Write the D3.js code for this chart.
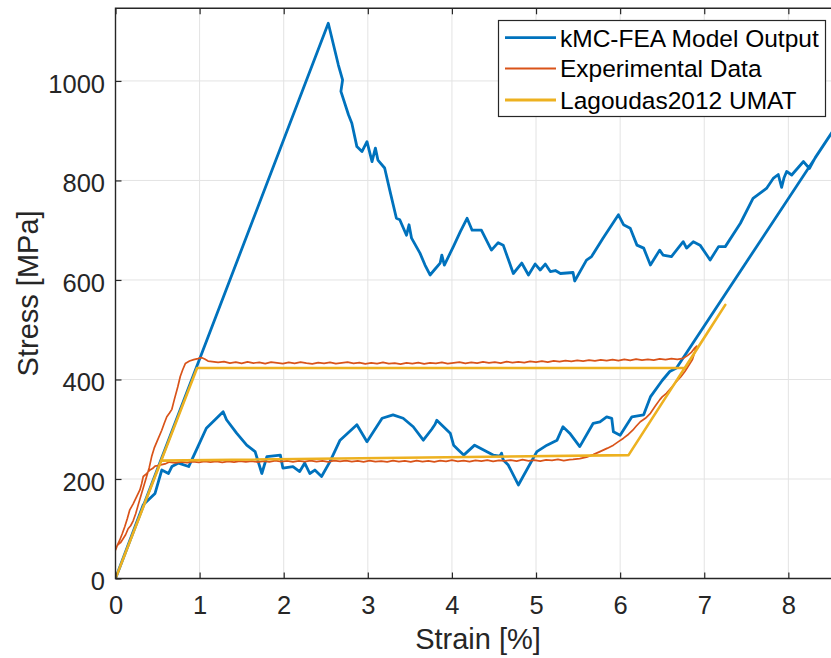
<!DOCTYPE html>
<html>
<head>
<meta charset="utf-8">
<script src="https://cdn.jsdelivr.net/npm/d3@7"></script>
<style>
  html, body { margin: 0; padding: 0; background: #fff; }
  svg { display: block; font-family: "Liberation Sans", Arial, Helvetica, sans-serif; }
</style>
</head>
<body>
<svg id="chart" width="831" height="658"></svg>
<script>
// Stress–strain response: kMC-FEA model, experiment and Lagoudas2012 UMAT

const seriesNames = ["kMC-FEA Model Output", "Experimental Data", "Lagoudas2012 UMAT"];
const seriesColors = ["#0072BD", "#D95319", "#EDB120"];

const xTicks = [0, 1, 2, 3, 4, 5, 6, 7, 8];
const yTicks = [0, 200, 400, 600, 800, 1000];

// kMC-FEA model: [strain %, stress MPa], loading then unloading
const kmcFea = [
  [0, 0], [2.53, 1116], [2.65, 1032], [2.70, 1002], [2.68, 979], [2.77, 932],
  [2.81, 915], [2.87, 868], [2.93, 858], [2.99, 878], [3.05, 838], [3.09, 865],
  [3.12, 841], [3.20, 825], [3.26, 781], [3.34, 724], [3.38, 721], [3.46, 690],
  [3.49, 711], [3.52, 684], [3.62, 654], [3.68, 630], [3.74, 610], [3.80, 622],
  [3.86, 634], [3.88, 650], [3.91, 630], [4.02, 668], [4.10, 697], [4.18, 724],
  [4.24, 700], [4.35, 700], [4.47, 660], [4.55, 675], [4.61, 670], [4.73, 613],
  [4.83, 634], [4.91, 610], [4.99, 632], [5.05, 620], [5.11, 632], [5.17, 617],
  [5.23, 619], [5.29, 613], [5.44, 615], [5.46, 598], [5.60, 640], [5.66, 647],
  [5.80, 685], [5.98, 731], [6.04, 711], [6.12, 704], [6.20, 670], [6.28, 664],
  [6.36, 630], [6.47, 660], [6.51, 650], [6.61, 647], [6.75, 677], [6.79, 664],
  [6.87, 677], [6.95, 670], [7.03, 650], [7.07, 640], [7.17, 667], [7.25, 667],
  [7.43, 714], [7.58, 764], [7.74, 784], [7.82, 804], [7.88, 812], [7.92, 786],
  [7.95, 806], [7.98, 818], [8.04, 811], [8.18, 838], [8.25, 824], [8.32, 846],
  [8.56, 907],
  [6.67, 423], [6.59, 416], [6.50, 398], [6.36, 365], [6.30, 338], [6.28, 329],
  [6.14, 325], [6.00, 288], [5.92, 295], [5.90, 322], [5.84, 325], [5.76, 315],
  [5.68, 312], [5.52, 265], [5.40, 292], [5.32, 305], [5.25, 278], [5.13, 268],
  [5.01, 255], [4.79, 188], [4.67, 228], [4.61, 238], [4.59, 252], [4.57, 246],
  [4.49, 248], [4.27, 268], [4.14, 248], [4.08, 258], [4.02, 268], [3.98, 292],
  [3.90, 305], [3.82, 318], [3.80, 310], [3.76, 300], [3.66, 278], [3.54, 305],
  [3.42, 322], [3.30, 329], [3.17, 322], [2.99, 275], [2.87, 309], [2.67, 278],
  [2.55, 235], [2.45, 205], [2.37, 218], [2.31, 211], [2.25, 232], [2.19, 215],
  [2.11, 225], [1.99, 222], [1.96, 248], [1.80, 245], [1.74, 211], [1.66, 255],
  [1.56, 268], [1.44, 292], [1.32, 319], [1.28, 335], [1.08, 302], [0.98, 265],
  [0.87, 225], [0.75, 232], [0.67, 225], [0.63, 211], [0.55, 218], [0.47, 171],
  [0.33, 148], [0, 0]
];

// Experimental data: loading branch
const expLoading = [
  [0, 60], [0.03, 68], [0.06, 72], [0.09, 80], [0.12, 88], [0.15, 100], [0.18, 106],
  [0.21, 116], [0.24, 130], [0.27, 148], [0.31, 171], [0.34, 188], [0.37, 205],
  [0.40, 222], [0.43, 245], [0.46, 262], [0.50, 278], [0.55, 298], [0.58, 312],
  [0.61, 325], [0.64, 332], [0.67, 340], [0.70, 360], [0.74, 385], [0.77, 406],
  [0.80, 420], [0.83, 432], [0.88, 437], [0.93, 440], [0.98, 442], [1.02, 444],
  [1.06, 441], [1.10, 437]
];

// Experimental data: upper (forward transformation) plateau
const expUpper = [
  [1.15, 436], [1.22, 434.5], [1.29, 436], [1.36, 433], [1.43, 435], [1.50, 432.5],
  [1.57, 435.5], [1.64, 433], [1.71, 434.5], [1.78, 432], [1.85, 435], [1.92, 433.5],
  [1.99, 432], [2.06, 434.5], [2.13, 432.5], [2.20, 435], [2.27, 433], [2.34, 431.5],
  [2.41, 434], [2.48, 432.5], [2.55, 434.5], [2.62, 432], [2.69, 433.5], [2.76, 435],
  [2.83, 432.5], [2.90, 434], [2.97, 431.5], [3.04, 433.5], [3.11, 432], [3.18, 434.5],
  [3.25, 432], [3.32, 433], [3.39, 431], [3.46, 433.5], [3.53, 432], [3.60, 434],
  [3.67, 431.5], [3.74, 433.5], [3.81, 432.5], [3.88, 434.5], [3.95, 432], [4.02, 433.5],
  [4.09, 435], [4.16, 432.5], [4.23, 434.5], [4.30, 433], [4.37, 435.5], [4.44, 433.5],
  [4.51, 435], [4.58, 433], [4.65, 436], [4.72, 434], [4.79, 435.5], [4.86, 434],
  [4.93, 436.5], [5.00, 435], [5.07, 437], [5.14, 435], [5.21, 437.5], [5.28, 436],
  [5.35, 438], [5.42, 436.5], [5.49, 438.5], [5.56, 437], [5.63, 439], [5.70, 437.5],
  [5.77, 439.5], [5.84, 438], [5.91, 440], [5.98, 438], [6.05, 440.5], [6.12, 438.5],
  [6.19, 441], [6.26, 439], [6.33, 440.5], [6.40, 439], [6.47, 441.5], [6.54, 440],
  [6.61, 442], [6.68, 440.5], [6.75, 442.5], [6.80, 448], [6.85, 455], [6.88, 462],
  [6.91, 467]
];

// Experimental data: unloading branch down to the lower plateau
const expUnloading = [
  [6.86, 440], [6.80, 424], [6.77, 416], [6.72, 405], [6.67, 396], [6.61, 384],
  [6.55, 372], [6.50, 365], [6.47, 359], [6.42, 347], [6.36, 332], [6.30, 322],
  [6.24, 315], [6.19, 306], [6.15, 298], [6.10, 290], [6.04, 282], [5.98, 275],
  [5.92, 268], [5.85, 262], [5.76, 255], [5.68, 249], [5.60, 244], [5.52, 241],
  [5.44, 239.5]
];

// Experimental data: lower (reverse transformation) plateau and return
const expLower = [
  [5.40, 239], [5.33, 237], [5.26, 239.5], [5.19, 237.5], [5.12, 238.5], [5.05, 236],
  [4.98, 238], [4.91, 236.5], [4.84, 239], [4.77, 236], [4.70, 238], [4.63, 236.5],
  [4.56, 237.5], [4.49, 235.5], [4.42, 238], [4.35, 236], [4.28, 237.5], [4.21, 235],
  [4.14, 237], [4.07, 235.5], [4.00, 238], [3.93, 235.5], [3.86, 237], [3.79, 234.5],
  [3.72, 236.5], [3.65, 235], [3.58, 237], [3.51, 234.5], [3.44, 236.5], [3.37, 235],
  [3.30, 237], [3.23, 234.5], [3.16, 236], [3.09, 235], [3.02, 237], [2.95, 234.5],
  [2.88, 236.5], [2.81, 235], [2.74, 237], [2.67, 235.5], [2.60, 237], [2.53, 234.5],
  [2.46, 236.5], [2.39, 235], [2.32, 237], [2.25, 235], [2.18, 236.5], [2.11, 234.5],
  [2.04, 236.5], [1.97, 235], [1.90, 237], [1.83, 234.5], [1.76, 236], [1.69, 234],
  [1.62, 236], [1.55, 234.5], [1.48, 236], [1.41, 234], [1.34, 235.5], [1.27, 233.5],
  [1.20, 235.5], [1.13, 234], [1.06, 235.5], [0.99, 233.5], [0.92, 235], [0.85, 233],
  [0.78, 234.5], [0.71, 232.5], [0.64, 234], [0.60, 231], [0.55, 229], [0.50, 227],
  [0.47, 226], [0.44, 221], [0.41, 218], [0.37, 211], [0.33, 205], [0.31, 190],
  [0.29, 178], [0.25, 164], [0.21, 150], [0.17, 138], [0.14, 120], [0.11, 104],
  [0.08, 90], [0.05, 77], [0.02, 66], [0, 57]
];

// Lagoudas2012 UMAT response
const lagoudasUmat = [
  [0, 0], [0.97, 423], [6.77, 423], [7.25, 550], [6.10, 248], [0.545, 237], [0, 0]
];

const svg = d3.select("#chart");
const mLeft = 115.5, mRight = 830.4, mTop = 8.3, mBottom = 578.5;

const x = d3.scaleLinear().domain([0, 8.5]).range([mLeft, mRight]);
const y = d3.scaleLinear().domain([0, 1146]).range([mBottom, mTop]);

const axisColor = "#262626";
const tickFont = 25.5;

// grid
const grid = svg.append("g");
grid.selectAll("line.gx").data(xTicks.filter(d => d > 0)).join("line")
  .attr("x1", d => x(d)).attr("x2", d => x(d))
  .attr("y1", mTop).attr("y2", mBottom)
  .attr("stroke", "#e3e3e3").attr("stroke-width", 1);
grid.selectAll("line.gy").data(yTicks.filter(d => d > 0)).join("line")
  .attr("x1", mLeft).attr("x2", 831)
  .attr("y1", d => y(d)).attr("y2", d => y(d))
  .attr("stroke", "#e3e3e3").attr("stroke-width", 1);

// data lines, clipped to the axes box
svg.append("clipPath").attr("id", "plotClip")
  .append("rect").attr("x", mLeft).attr("y", mTop)
  .attr("width", 831 - mLeft).attr("height", mBottom - mTop);

const line = d3.line().x(d => x(d[0])).y(d => y(d[1]));
const plot = svg.append("g").attr("clip-path", "url(#plotClip)");

plot.append("path").datum(kmcFea).attr("d", line)
  .attr("fill", "none").attr("stroke", seriesColors[0])
  .attr("stroke-width", 2.8).attr("stroke-linejoin", "round");

const expData = expLoading.concat(expUpper, expUnloading, expLower);
plot.append("path").datum(expData).attr("d", line)
  .attr("fill", "none").attr("stroke", seriesColors[1])
  .attr("stroke-width", 1.7).attr("stroke-linejoin", "round");

plot.append("path").datum(lagoudasUmat).attr("d", line)
  .attr("fill", "none").attr("stroke", seriesColors[2])
  .attr("stroke-width", 2.6).attr("stroke-linejoin", "round");

// axes frame (top, left, bottom)
svg.append("path")
  .attr("d", `M831,${mTop}H${mLeft}V${mBottom}H831`)
  .attr("fill", "none").attr("stroke", axisColor).attr("stroke-width", 1.4);

// bottom axis
const xAxis = svg.append("g").attr("transform", `translate(0,${mBottom})`)
  .call(d3.axisBottom(x).tickValues(xTicks).tickFormat(d3.format("d"))
    .tickSizeInner(-6).tickSizeOuter(0).tickPadding(17.4));
// top axis ticks
const xAxisTop = svg.append("g").attr("transform", `translate(0,${mTop})`)
  .call(d3.axisTop(x).tickValues(xTicks).tickFormat("")
    .tickSizeInner(-6).tickSizeOuter(0));
// left axis
const yAxis = svg.append("g").attr("transform", `translate(${mLeft},0)`)
  .call(d3.axisLeft(y).tickValues(yTicks).tickFormat(d3.format("d"))
    .tickSizeInner(-6).tickSizeOuter(0).tickPadding(10.5));

[xAxis, xAxisTop, yAxis].forEach(g => {
  g.select(".domain").remove();
  g.selectAll(".tick line").attr("stroke", axisColor).attr("stroke-width", 1.2);
  g.selectAll(".tick text")
    .attr("fill", axisColor)
    .attr("font-size", tickFont)
    .attr("font-family", "'Liberation Sans', Arial, Helvetica, sans-serif");
});
yAxis.selectAll(".tick text").attr("dy", "0.45em");

// axis titles
svg.append("text")
  .attr("x", 478).attr("y", 649)
  .attr("text-anchor", "middle")
  .attr("font-size", 29).attr("fill", axisColor)
  .text("Strain [%]");

svg.append("text")
  .attr("transform", `translate(38,${(mTop + mBottom) / 2}) rotate(-90)`)
  .attr("text-anchor", "middle")
  .attr("font-size", 29).attr("fill", axisColor)
  .text("Stress [MPa]");

// legend
const legend = svg.append("g");
legend.append("rect")
  .attr("x", 498.5).attr("y", 20.5).attr("width", 327).attr("height", 96)
  .attr("fill", "#fff").attr("stroke", axisColor).attr("stroke-width", 1.2);
const rowY = [37.7, 68.6, 100];
seriesNames.forEach((name, i) => {
  legend.append("line")
    .attr("x1", 505).attr("x2", 556)
    .attr("y1", rowY[i]).attr("y2", rowY[i])
    .attr("stroke", seriesColors[i])
    .attr("stroke-width", i === 1 ? 2 : 2.8);
  legend.append("text")
    .attr("x", 560).attr("y", rowY[i]).attr("dy", "0.36em")
    .attr("font-size", 24.5).attr("fill", "#000")
    .text(name);
});
</script>
</body>
</html>
